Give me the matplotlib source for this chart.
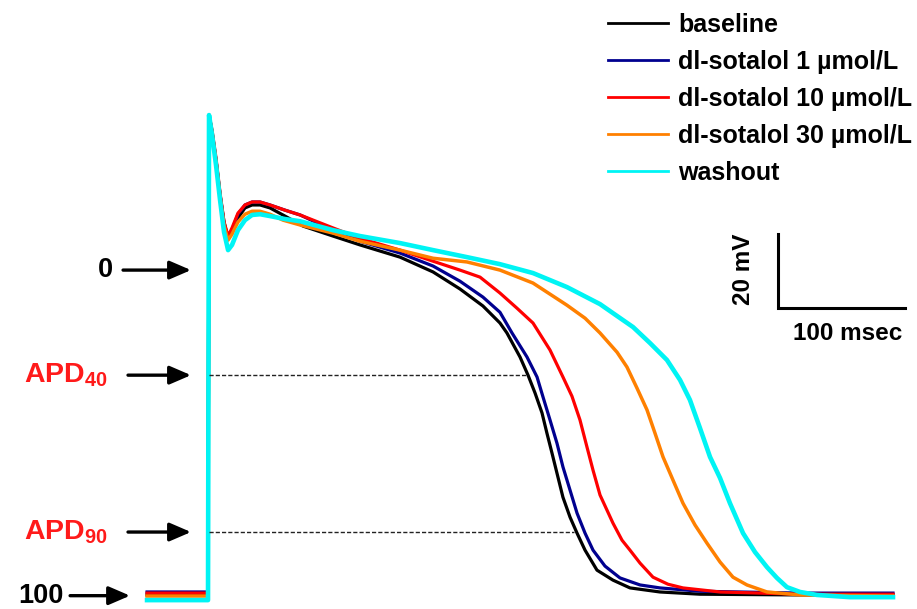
import matplotlib
matplotlib.use("Agg")
import matplotlib.pyplot as plt

plt.rcParams['font.family'] = ['Liberation Sans', 'DejaVu Sans']
plt.rcParams['font.weight'] = 'bold'
plt.rcParams['mathtext.fontset'] = 'custom'
plt.rcParams['mathtext.rm'] = 'Liberation Sans:bold'
plt.rcParams['mathtext.bf'] = 'Liberation Sans:bold'
plt.rcParams['mathtext.it'] = 'Liberation Sans:bold'

# ---- action potential recordings: time (ms) vs membrane potential (mV) ----
baseline_t = [-48.8, -0.8, 0.0, 2.4, 5.5, 8.7, 11.8, 15.0, 18.1, 22.8, 28.3, 33.9, 40.2, 48.0,
              59.8, 74.0, 97.6, 118.9, 150.4, 176.4, 197.6, 215.7, 229.1, 234.6, 244.9, 251.2,
              256.7, 262.2, 266.1, 270.1, 274.0, 278.7, 284.3, 289.8, 296.1, 305.5, 318.1,
              331.5, 355.1, 386.6, 465.4, 538.6]
baseline_v = [-87.8, -87.8, 41.9, 37.3, 29.7, 20.3, 13.0, 8.6, 10.3, 14.1, 16.8, 17.6, 17.6, 16.8,
              14.6, 11.9, 9.2, 6.8, 3.5, -0.5, -5.1, -9.7, -14.3, -17.0, -23.5, -28.4,
              -33.2, -38.6, -44.1, -49.5, -54.9, -61.4, -66.8, -71.1, -75.7, -81.1, -83.8,
              -85.9, -87.0, -87.6, -87.8, -87.8]

sot1_t = [-48.8, -0.8, 0.0, 2.4, 5.5, 8.7, 11.8, 15.0, 18.1, 22.8, 28.3, 33.9, 40.2, 48.0,
          59.8, 71.7, 97.6, 118.9, 150.4, 176.4, 197.6, 215.7, 229.1, 238.6, 250.4, 258.3,
          263.0, 268.5, 274.0, 278.7, 284.3, 289.8, 296.1, 302.4, 311.8, 323.6, 339.4,
          355.1, 386.6, 465.4, 538.6]
sot1_v = [-87.0, -87.0, 41.9, 37.3, 29.7, 20.3, 12.4, 8.6, 10.8, 15.1, 17.6, 18.4, 18.4, 17.6,
          16.2, 14.9, 10.8, 7.8, 4.6, 1.1, -3.0, -7.3, -11.4, -17.0, -23.5, -28.9,
          -34.3, -40.5, -46.8, -53.2, -59.5, -65.7, -71.1, -75.7, -80.0, -83.2, -85.1,
          -85.9, -86.8, -87.3, -87.3]

sot10_t = [-48.8, -0.8, 0.0, 2.4, 5.5, 8.7, 11.8, 15.0, 18.1, 22.8, 28.3, 33.9, 40.2, 48.0,
           59.8, 71.7, 97.6, 118.9, 150.4, 176.4, 197.6, 213.4, 229.1, 242.5, 255.1, 268.5,
           278.7, 285.8, 292.1, 297.6, 302.4, 307.9, 318.1, 325.2, 331.5, 339.4, 349.6,
           361.4, 373.2, 402.4, 465.4, 538.6]
sot10_v = [-87.3, -87.3, 41.9, 37.8, 30.3, 20.8, 13.0, 9.2, 11.4, 15.4, 17.6, 18.4, 18.4, 17.6,
           16.2, 14.9, 11.4, 8.6, 5.4, 2.4, 0.0, -1.9, -6.2, -10.3, -14.3, -21.6,
           -28.9, -34.1, -40.5, -47.8, -54.1, -60.8, -68.4, -73.0, -75.7, -79.2, -83.0,
           -84.9, -85.9, -87.0, -87.6, -87.6]

sot30_t = [-48.8, -0.8, 0.0, 2.4, 5.5, 8.7, 11.8, 15.0, 18.1, 22.8, 28.3, 33.9, 40.2, 48.0,
           58.3, 71.7, 97.6, 118.9, 150.4, 176.4, 203.1, 229.1, 255.1, 281.9, 296.1, 307.9,
           321.3, 329.1, 337.0, 344.9, 351.2, 357.5, 365.4, 373.2, 382.7, 392.1, 402.4,
           412.6, 423.6, 439.4, 465.4, 538.6]
sot30_v = [-88.1, -88.1, 41.9, 37.0, 29.2, 19.7, 11.9, 8.1, 9.7, 13.0, 15.1, 15.9, 15.9, 15.1,
           13.5, 12.2, 10.0, 7.8, 5.4, 3.2, 2.2, 0.0, -3.5, -9.5, -13.0, -17.0,
           -22.2, -26.2, -31.9, -37.8, -44.1, -50.5, -56.8, -63.0, -68.9, -73.8, -78.9,
           -83.0, -85.1, -87.0, -87.8, -88.1]

washout_t = [-48.8, -0.8, 0.0, 2.4, 5.5, 8.7, 11.8, 15.0, 18.1, 22.8, 28.3, 33.9, 40.2, 48.0,
             59.8, 71.7, 97.6, 118.9, 150.4, 176.4, 203.1, 229.1, 255.1, 281.9, 307.9, 321.3,
             333.9, 347.2, 360.6, 370.9, 378.7, 386.6, 394.5, 402.4, 410.2, 420.5, 429.9,
             439.4, 447.2, 455.1, 465.4, 478.7, 504.7, 538.6]
washout_v = [-89.2, -89.2, 41.9, 36.5, 28.4, 18.9, 10.3, 5.4, 6.8, 10.8, 13.5, 14.9, 15.1, 14.6,
             13.8, 13.2, 10.8, 9.2, 7.3, 5.4, 3.5, 1.6, -0.8, -4.6, -9.2, -12.4,
             -15.4, -19.7, -24.3, -29.7, -35.1, -42.7, -50.5, -56.2, -63.0, -71.1, -76.2,
             -80.3, -83.2, -85.7, -87.0, -87.8, -88.4, -88.4]

labels = ["baseline", "dl-sotalol 1 \u00b5mol/L", "dl-sotalol 10 \u00b5mol/L",
          "dl-sotalol 30 \u00b5mol/L", "washout"]

# reference levels (mV) and baseline APD values (ms)
zero_v = 0.0
apd40_v = -28.4
apd90_v = -70.8
rest_v = -88.6
apd40_ms = 251.2
apd90_ms = 287.5

# ---- figure ----
fig = plt.figure(figsize=(9.17, 6.09), dpi=100)
ax = fig.add_axes([0, 0, 1, 1])
ax.set_xlim(-164.6, 557.5)
ax.set_ylim(-91.6, 73.0)
ax.axis('off')

colors = ['#000000', '#00008f', '#ff0000', '#ff8000', '#00f4f4']
widths = [2.3, 2.3, 2.3, 2.5, 3.3]
series = [(baseline_t, baseline_v), (sot1_t, sot1_v), (sot10_t, sot10_v),
          (sot30_t, sot30_v), (washout_t, washout_v)]
for (t, v), c, w, lab in zip(series, colors, widths, labels):
    ax.plot(t, v, color=c, lw=w, label=lab, solid_joinstyle='round')

# APD measurement lines on the baseline trace
ax.plot([0, apd40_ms], [apd40_v, apd40_v], color='#222222', lw=1.0, ls=(0, (3, 1.5)))
ax.plot([0, apd90_ms], [apd90_v, apd90_v], color='#222222', lw=1.0, ls=(0, (3, 1.5)))

# left-hand level markers
arrow_kw = dict(arrowstyle='-|>,head_length=0.65,head_width=0.28', lw=2.4, color='black',
                shrinkA=0, shrinkB=0, mutation_scale=20)
markers = [("0", zero_v, -76.0, -67.7, -14.2, 'black'),
           (r"$\mathbf{APD}_{\mathbf{40}}$", apd40_v, -79.5, -63.8, -14.2, '#ff1a1a'),
           (r"$\mathbf{APD}_{\mathbf{90}}$", apd90_v, -79.5, -63.8, -14.2, '#ff1a1a'),
           ("100", rest_v + 0.6, -114.5, -109.4, -62.2, 'black')]
for txt, lvl, tx, a0, a1, col in markers:
    size = 20.5 if txt.startswith('$') else 19.5
    ax.text(tx, lvl, txt, ha='right', va='center', fontsize=size, fontweight='bold', color=col)
    ax.annotate('', xy=(a1, lvl), xytext=(a0, lvl), arrowprops=arrow_kw)

# scale bar
sb_t0, sb_v0 = 448.0, -10.3
ax.plot([sb_t0, sb_t0, sb_t0 + 100], [sb_v0 + 20, sb_v0, sb_v0], color='black', lw=2.2,
        solid_joinstyle='miter')
ax.text(sb_t0 + 55, sb_v0 - 6.8, "100 msec", ha='center', va='center', fontsize=17.5,
        fontweight='bold')
ax.text(sb_t0 - 26.8, sb_v0 + 10.5, "20 mV", ha='center', va='center', rotation=90,
        fontsize=17.5, fontweight='bold')

leg = ax.legend(loc='upper left', bbox_to_anchor=(608 / 917, 1 - 13 / 609), frameon=False,
                fontsize=18, handlelength=2.4, handletextpad=0.4, labelspacing=0.52,
                borderpad=0, borderaxespad=0)
for h in leg.get_lines():
    h.set_linewidth(2.0)

fig.savefig("out.png", dpi=100)
